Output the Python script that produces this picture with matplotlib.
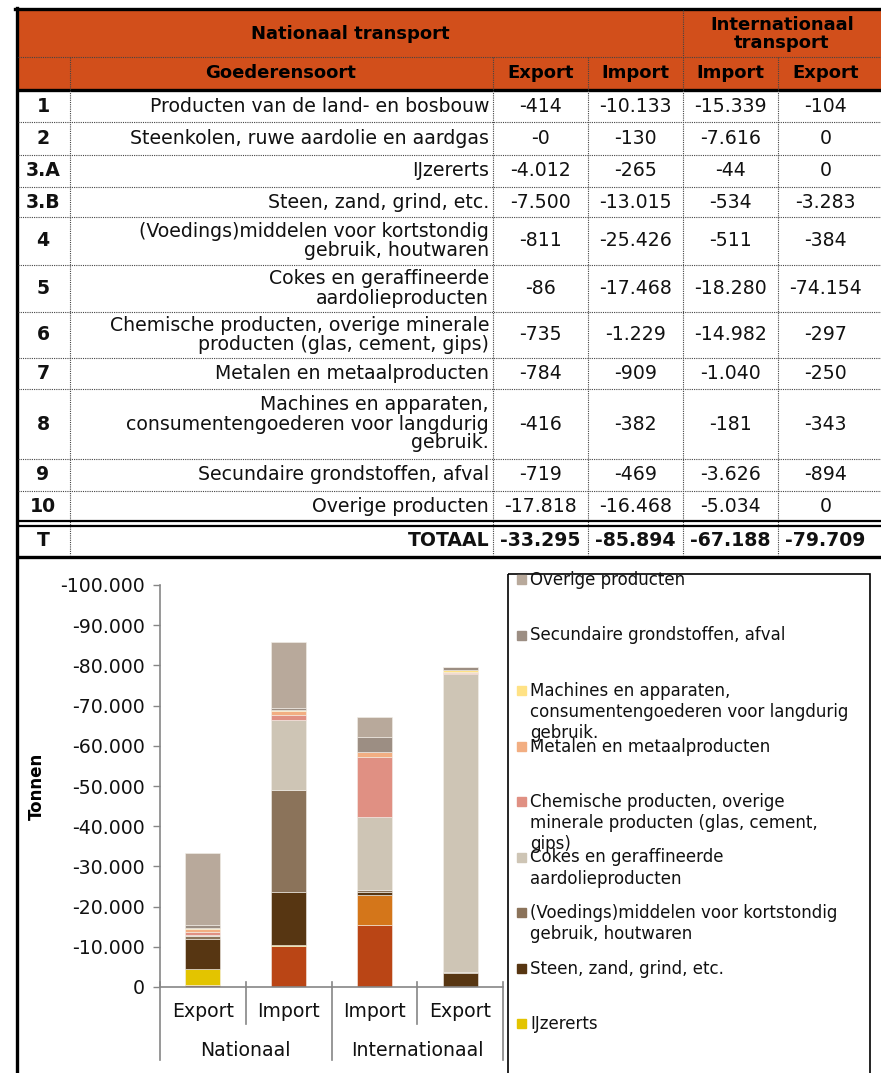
import numpy as np
import matplotlib.pyplot as plt
from matplotlib.patches import Rectangle

# goederensoorten (tabel) en waarden in tonnen
codes = ['1', '2', '3.A', '3.B', '4', '5', '6', '7', '8', '9', '10']
names = ['Producten van de land- en bosbouw',
         'Steenkolen, ruwe aardolie en aardgas',
         'IJzererts',
         'Steen, zand, grind, etc.',
         '(Voedings)middelen voor kortstondig\ngebruik, houtwaren',
         'Cokes en geraffineerde\naardolieproducten',
         'Chemische producten, overige minerale\nproducten (glas, cement, gips)',
         'Metalen en metaalproducten',
         'Machines en apparaten,\nconsumentengoederen voor langdurig\ngebruik.',
         'Secundaire grondstoffen, afval',
         'Overige producten']
legend_names = ['Producten van de land- en bosbouw',
                'Steenkolen, ruwe aardolie en aardgas',
                'IJzererts',
                'Steen, zand, grind, etc.',
                '(Voedings)middelen voor kortstondig\ngebruik, houtwaren',
                'Cokes en geraffineerde\naardolieproducten',
                'Chemische producten, overige\nminerale producten (glas, cement,\ngips)',
                'Metalen en metaalproducten',
                'Machines en apparaten,\nconsumentengoederen voor langdurig\ngebruik.',
                'Secundaire grondstoffen, afval',
                'Overige producten']
nat_export = [-414, -0.4, -4012, -7500, -811, -86, -735, -784, -416, -719, -17818]
nat_import = [-10133, -130, -265, -13015, -25426, -17468, -1229, -909, -382, -469, -16468]
int_import = [-15339, -7616, -44, -534, -511, -18280, -14982, -1040, -181, -3626, -5034]
int_export = [-104, 0, 0, -3283, -384, -74154, -297, -250, -343, -894, 0]
totals = [-33295, -85894, -67188, -79709]
columns = ['Export', 'Import', 'Import', 'Export']
groups = ['Nationaal', 'Internationaal']
colors = ['#BA4515', '#D4761A', '#E3C400', '#573612', '#8B735A', '#CEC5B5',
          '#E09083', '#F2AE82', '#FFE285', '#9C8E83', '#B8A99B']

series = [nat_export, nat_import, int_import, int_export]


def fmt(v):
    return f'{v:,.0f}'.replace(',', '.')


W, H = 881, 1073
fig = plt.figure(figsize=(W / 100, H / 100), dpi=100)
bg = fig.add_axes([0, 0, 1, 1])
bg.set_xlim(0, W)
bg.set_ylim(H, 0)
bg.axis('off')

font = 'DejaVu Sans'
txt = '#111111'
orange = '#D24F1B'
dot = dict(color='#444444', lw=0.8, ls=(0, (1, 1)))
fs = 13.6

# ---- tabel ----
xs = [18, 70, 493, 588, 683, 778, 881]
row_y = [91, 122, 155, 187, 217, 265, 312, 358, 389, 459, 491, 521]

bg.add_patch(Rectangle((18, 10), W - 18, 78, color=orange, zorder=0))
bg.plot([15, W], [8.5, 8.5], color='black', lw=2.4)
bg.plot([16.5, 16.5], [8, H], color='black', lw=2.4)
bg.plot([18, W], [89.5, 89.5], color='black', lw=2.4)
bg.plot([18, W], [57, 57], **dot)
bg.plot([683, 683], [10, 57], **dot)
for x in xs[1:-1]:
    bg.plot([x, x], [57, 555], **dot)
for y in row_y[1:-1]:
    bg.plot([18, W], [y, y], **dot)
bg.plot([18, W], [521, 521], color='black', lw=1.6)
bg.plot([18, W], [526, 526], color='black', lw=1.6)
bg.plot([18, W], [556.5, 556.5], color='black', lw=2.4)

hdr = dict(fontsize=13, fontweight='bold', color='black', family=font,
           ha='center', va='center')
bg.text(350, 34, 'Nationaal transport', **hdr)
bg.text(782, 34, 'Internationaal\ntransport', linespacing=0.95, **hdr)
bg.text(281, 73, 'Goederensoort', **hdr)
for i, c in enumerate(columns):
    bg.text((xs[i + 2] + xs[i + 3]) / 2 - (4 if i == 3 else 0), 73, c, **hdr)

body = dict(fontsize=fs, color=txt, family=font, va='center')
for r in range(len(codes)):
    yc = (row_y[r] + row_y[r + 1]) / 2
    bg.text(43, yc, codes[r], ha='center', fontweight='bold', **body)
    bg.text(489, yc, names[r], ha='right', multialignment='right',
            linespacing=1.0, **body)
    for j, s in enumerate(series):
        bg.text((xs[j + 2] + xs[j + 3]) / 2 - (4 if j == 3 else 0), yc,
                fmt(s[r]), ha='center', **body)
yt = 541
bg.text(43, yt, 'T', ha='center', fontweight='bold', **body)
bg.text(489, yt, 'TOTAAL', ha='right', fontweight='bold', **body)
for j, t in enumerate(totals):
    bg.text((xs[j + 2] + xs[j + 3]) / 2 - (4 if j == 3 else 0), yt,
            fmt(t), ha='center', fontweight='bold', **body)

# ---- grafiek ----
ax = fig.add_axes([160 / W, (H - 987) / H, (503 - 160) / W, (987 - 585) / H])
x = np.arange(len(columns))
bottom = np.zeros(len(columns))
for k in range(len(codes)):
    vals = np.array([s[k] for s in series])
    ax.bar(x, vals, 0.41, bottom=bottom, color=colors[k],
           edgecolor='#f4f0ea', linewidth=0.4)
    bottom += vals

ax.set_xlim(-0.5, 3.5)
ax.set_ylim(0, -100000)
yt_vals = np.arange(0, -100001, -10000)
ax.set_yticks(yt_vals)
ax.set_yticklabels([fmt(v) for v in yt_vals], fontsize=fs, color=txt,
                   family=font)
ax.tick_params(axis='y', length=5, width=1, color='#868686', pad=6)
ax.set_xticks([])
for s in ['top', 'right']:
    ax.spines[s].set_visible(False)
for s in ['left', 'bottom']:
    ax.spines[s].set_color('#868686')
    ax.spines[s].set_linewidth(1.2)
ax.set_ylabel('Tonnen', fontsize=12, fontweight='bold', family=font,
              color='black', labelpad=10)

# categorie-as met twee niveaus
trans = ax.get_xaxis_transform()
for xi in [-0.5, 1.5, 3.5]:
    ax.plot([xi, xi], [0.012, -0.182], transform=trans, color='#868686',
            lw=1.2, clip_on=False)
for xi in [0.5, 2.5]:
    ax.plot([xi, xi], [0.012, -0.092], transform=trans, color='#868686',
            lw=1.2, clip_on=False)
for i, c in enumerate(columns):
    ax.text(i, -0.062, c, transform=trans, ha='center', va='center',
            fontsize=fs, color=txt, family=font)
for g, grp in enumerate(groups):
    ax.text(0.5 + 2 * g, -0.157, grp, transform=trans, ha='center',
            va='center', fontsize=fs, color=txt, family=font)

# ---- legenda (omgekeerde volgorde, loopt door onder de rand) ----
bg.add_patch(Rectangle((507.5, 573.5), 362, 600, fill=False,
                       edgecolor='black', lw=1.2))
ly = 580
for k in range(len(codes) - 1, -1, -1):
    if ly + 8 > H:
        break
    bg.add_patch(Rectangle((517, ly - 5), 9, 9, color=colors[k]))
    for n, line in enumerate(legend_names[k].split('\n')):
        bg.text(530, ly + n * 21, line, fontsize=12, color=txt,
                family=font, va='center', ha='left')
    ly += 55.5

fig.savefig('out.png', dpi=100)
